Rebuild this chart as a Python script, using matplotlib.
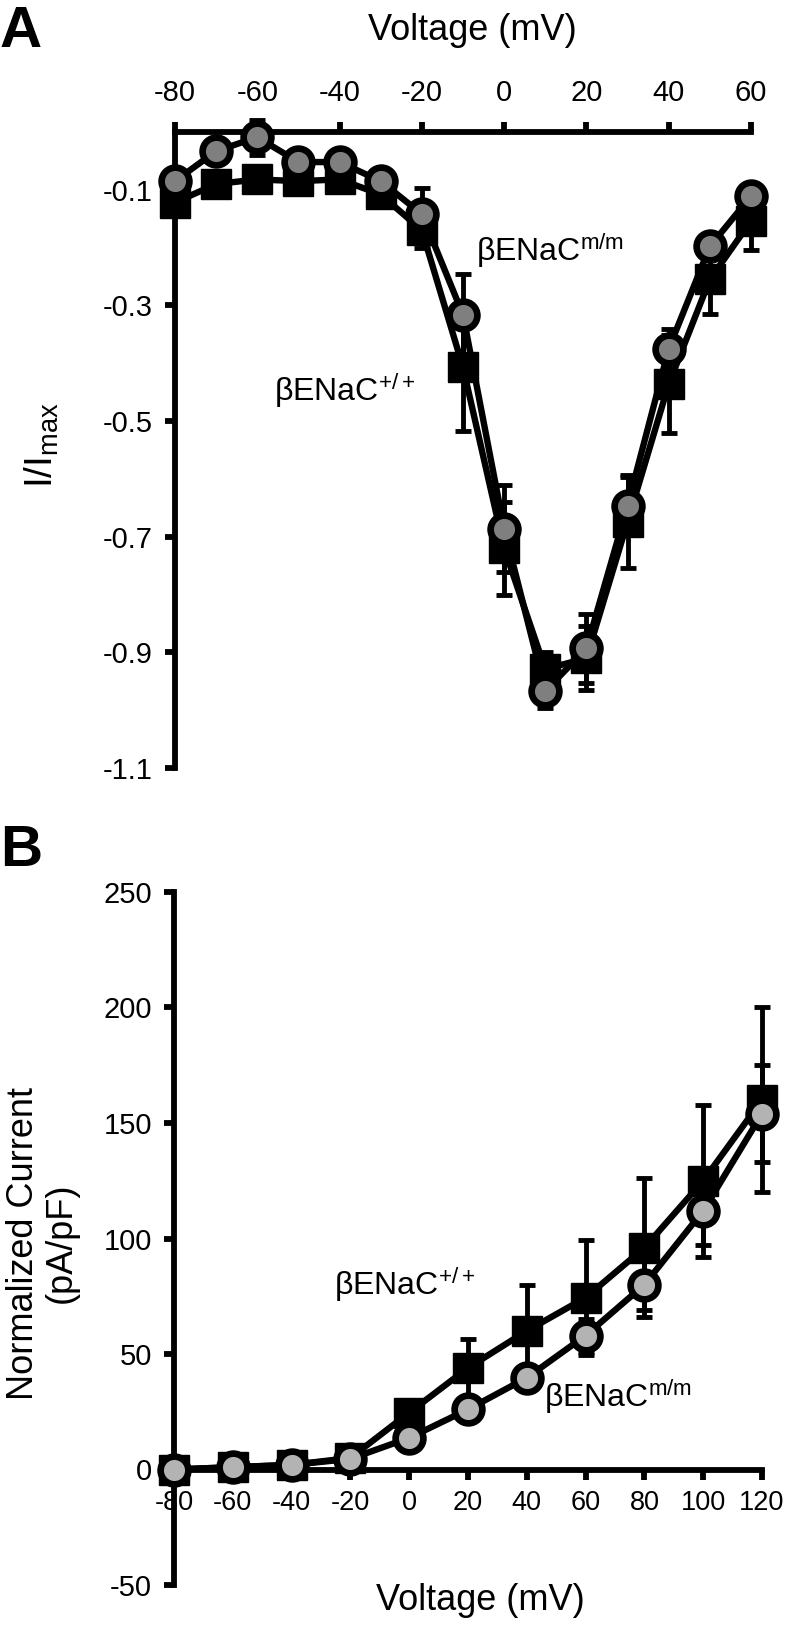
import numpy as np
import matplotlib
matplotlib.use('Agg')
from matplotlib import pyplot as plt

plt.rcParams['font.family'] = ['Liberation Sans', 'DejaVu Sans']
plt.rcParams['mathtext.fontset'] = 'custom'
plt.rcParams['mathtext.rm'] = 'Liberation Sans'
plt.rcParams['mathtext.it'] = 'Liberation Sans:italic'
plt.rcParams['axes.unicode_minus'] = False

# panel A: normalized I/V (I/Imax)
volt_a = [-80, -70, -60, -50, -40, -30, -20, -10, 0, 10, 20, 30, 40, 50, 60]
wt_a = [-0.122, -0.090, -0.082, -0.085, -0.082, -0.108, -0.170, -0.407,
        -0.720, -0.929, -0.910, -0.674, -0.436, -0.255, -0.154]
wt_a_err = [0.02, 0.01, 0.01, 0.01, 0.01, 0.015, 0.03, 0.11,
            0.08, 0.03, 0.055, 0.08, 0.085, 0.06, 0.05]
mm_a = [-0.085, -0.033, -0.009, -0.052, -0.052, -0.085, -0.142, -0.316,
        -0.686, -0.967, -0.893, -0.646, -0.375, -0.198, -0.111]
mm_a_err = [0.01, 0.01, 0.03, 0.01, 0.01, 0.01, 0.045, 0.07,
            0.075, 0.03, 0.06, 0.05, 0.035, 0.02, 0.01]
yticks_a = [-0.1, -0.3, -0.5, -0.7, -0.9, -1.1]
xticks_a = [-80, -60, -40, -20, 0, 20, 40, 60]

# panel B: current density (pA/pF)
volt_b = [-80, -60, -40, -20, 0, 20, 40, 60, 80, 100, 120]
wt_b = [0, 1, 2, 5, 24.6, 44, 60, 74.4, 96, 125, 160]
wt_b_err = [0.5, 0.5, 1, 1.5, 4, 12.6, 20, 25, 30, 33, 40]
mm_b = [0, 1, 2, 4.6, 13.7, 26, 39.7, 58, 80, 112, 154]
mm_b_err = [0.5, 0.5, 1, 1, 2, 3, 4, 7, 11, 15, 21]
yticks_b = [-50, 0, 50, 100, 150, 200, 250]
xticks_b = [-80, -60, -40, -20, 0, 20, 40, 60, 80, 100, 120]

W, H = 786, 1627
fig = plt.figure(figsize=(W / 100, H / 100), dpi=100)

def fx(px):
    return px / W

def fy(py):
    return 1 - py / H

SPW = 4.2   # spine width
LW = 4.6    # series line width

def draw_series(ax, x, y, err, marker, face, ms, mew):
    ax.errorbar(x, y, yerr=err, fmt='none', ecolor='black', elinewidth=3.5,
                capsize=5.5, capthick=3.5, clip_on=False, zorder=3)
    ax.plot(x, y, color='black', lw=LW, marker=marker, ms=ms,
            markerfacecolor=face, markeredgecolor='black', mew=mew,
            clip_on=False, zorder=4)

# ---- panel A ----
axA = fig.add_axes([fx(175), fy(768), fx(751) - fx(175), fy(132) - fy(768)])
draw_series(axA, volt_a, wt_a, wt_a_err, 's', 'black', 21, 1)
draw_series(axA, volt_a, mm_a, mm_a_err, 'o', '#7f7f7f', 20, 4.8)
axA.set_xlim(-80, 60)
axA.set_ylim(-1.1, 0)
axA.spines['bottom'].set_visible(False)
axA.spines['right'].set_visible(False)
axA.spines['top'].set_linewidth(SPW)
axA.spines['left'].set_linewidth(SPW)
axA.xaxis.tick_top()
axA.set_xticks(xticks_a)
axA.set_yticks(yticks_a)
axA.set_yticklabels(['%.1f' % t for t in yticks_a])
axA.tick_params(axis='x', direction='out', length=7, width=SPW, labelsize=21, pad=11)
axA.tick_params(axis='y', direction='out', length=7, width=SPW, labelsize=21, pad=9)

fig.text(fx(0), fy(32), 'A', fontsize=42, fontweight='bold', va='center', ha='left')
fig.text(fx(472), fy(30), 'Voltage (mV)', fontsize=26, ha='center', va='center')
fig.text(fx(42), fy(445), 'I/I$_{\\mathrm{max}}$', fontsize=28, rotation=90,
         ha='center', va='center')
fig.text(fx(476), fy(250), '\u03b2ENaC$^{\\mathrm{m/m}}$', fontsize=23, va='center')
fig.text(fx(274), fy(390), '\u03b2ENaC$^{\\mathrm{+/+}}$', fontsize=23, va='center')

# ---- panel B ----
axB = fig.add_axes([fx(174), fy(1585), fx(762) - fx(174), fy(892) - fy(1585)])
draw_series(axB, volt_b, wt_b, wt_b_err, 's', 'black', 21, 1)
draw_series(axB, volt_b, mm_b, mm_b_err, 'o', '#b3b3b3', 20, 4.8)
axB.set_xlim(-80, 120)
axB.set_ylim(-50, 250)
axB.spines['top'].set_visible(False)
axB.spines['right'].set_visible(False)
axB.spines['bottom'].set_position(('data', 0))
axB.spines['bottom'].set_linewidth(SPW)
axB.spines['left'].set_linewidth(SPW)
axB.set_xticks(xticks_b)
axB.set_yticks(yticks_b)
axB.tick_params(axis='x', direction='out', length=7, width=SPW, labelsize=19.5, pad=8)
axB.tick_params(axis='y', direction='out', length=7, width=SPW, labelsize=21, pad=9)

fig.text(fx(0), fy(851), 'B', fontsize=42, fontweight='bold', va='center', ha='left')
fig.text(fx(480), fy(1600), 'Voltage (mV)', fontsize=26, ha='center', va='center')
fig.text(fx(42), fy(1243), 'Normalized Current\n(pA/pF)', fontsize=26, rotation=90,
         ha='center', va='center', multialignment='center', linespacing=1.1)
fig.text(fx(334), fy(1285), '\u03b2ENaC$^{\\mathrm{+/+}}$', fontsize=23, va='center')
fig.text(fx(544), fy(1397), '\u03b2ENaC$^{\\mathrm{m/m}}$', fontsize=23, va='center')

fig.savefig('out.png', dpi=100)
